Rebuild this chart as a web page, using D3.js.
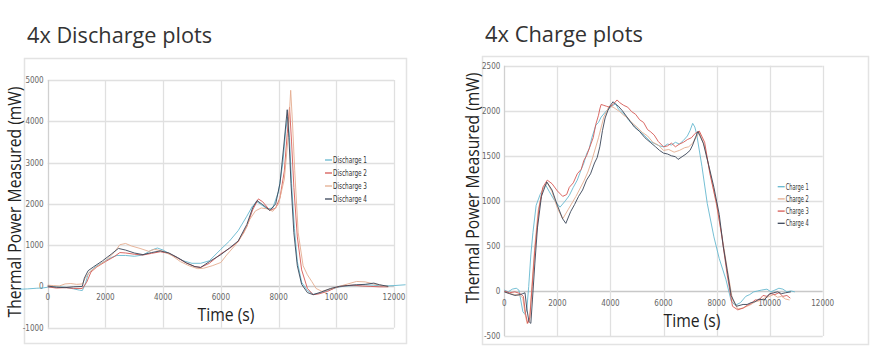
<!DOCTYPE html>
<html>
<head>
<meta charset="utf-8">
<script src="https://cdn.jsdelivr.net/npm/d3@7"></script>
<style>
  body { margin: 0; background: #fff; }
  svg { display: block; }
</style>
</head>
<body>
<div class="vis"></div>
<script>
const W = 881;
const H = 364;

// ---- data (time in s, thermal power in mW) ----
const xTicks = [0, 2000, 4000, 6000, 8000, 10000, 12000];
const dischargeTicksY = [-1000, 0, 1000, 2000, 3000, 4000, 5000];
const chargeTicksY = [-500, 0, 500, 1000, 1500, 2000, 2500];

const dischargeNames = ["Discharge 1", "Discharge 2", "Discharge 3", "Discharge 4"];
const chargeNames = ["Charge 1", "Charge 2", "Charge 3", "Charge 4"];

const discharge1 = [[-1000,-70],[-700,-60],[-400,-45],[-150,-35],[0,-20],[300,-10],[600,-20],[900,-60],[1100,-90],[1200,-100],[1300,50],[1400,300],[1600,450],[1900,580],[2200,700],[2400,750],[2700,750],[3000,730],[3300,760],[3600,880],[3800,930],[4000,880],[4300,760],[4700,620],[5000,560],[5300,560],[5600,620],[6000,900],[6300,1100],[6600,1350],[6900,1700],[7100,1950],[7250,2050],[7400,1980],[7600,1880],[7800,1900],[8000,2300],[8150,3000],[8250,3800],[8320,4100],[8380,3600],[8450,2500],[8550,1400],[8650,600],[8800,100],[9000,-100],[9200,-190],[9400,-170],[9700,-100],[10000,-30],[10300,10],[10700,30],[11000,40],[11300,30],[11600,10],[12000,20],[12400,40]];
const discharge2 = [[0,-10],[300,-40],[600,-30],[900,-50],[1200,-50],[1350,100],[1500,350],[1700,470],[2000,600],[2300,720],[2500,820],[2700,810],[3000,780],[3300,760],[3600,800],[3900,840],[4200,800],[4500,690],[4800,570],[5100,480],[5300,460],[5600,560],[6000,790],[6300,920],[6600,1080],[6900,1450],[7100,1850],[7300,2120],[7450,2050],[7700,1840],[7900,1900],[8050,2150],[8200,2800],[8300,3700],[8380,4340],[8450,3500],[8530,2400],[8650,1200],[8800,400],[9000,-50],[9200,-200],[9400,-180],[9700,-120],[10000,-20],[10300,20],[10600,30],[10900,10],[11200,0],[11500,-10],[11800,-10]];
const discharge3 = [[0,30],[200,20],[400,10],[600,60],[800,70],[1000,50],[1200,60],[1300,200],[1450,350],[1700,480],[2000,620],[2300,820],[2500,1010],[2700,1040],[2900,980],[3200,920],[3500,850],[3700,900],[4000,850],[4300,750],[4600,600],[4900,500],[5200,430],[5400,440],[5700,500],[6000,580],[6200,760],[6500,1000],[6800,1300],[7000,1620],[7200,1830],[7400,1900],[7600,1880],[7800,1820],[8000,2000],[8200,2600],[8330,3600],[8420,4750],[8480,4000],[8560,2800],[8680,1300],[8850,500],[9000,280],[9150,120],[9300,-50],[9500,-120],[9800,-60],[10100,0],[10400,60],[10700,120],[11000,110],[11300,60],[11600,20],[11800,0]];
const discharge4 = [[0,10],[300,-20],[600,-30],[900,-10],[1200,0],[1270,200],[1400,380],[1600,480],[1900,620],[2200,780],[2450,920],[2700,880],[3000,810],[3300,770],[3600,820],[3900,860],[4200,810],[4500,700],[4800,570],[5100,480],[5300,460],[5600,600],[6000,770],[6300,930],[6600,1100],[6900,1500],[7100,1900],[7250,2080],[7450,1980],[7700,1840],[7900,2000],[8050,2500],[8180,3400],[8300,4280],[8360,3600],[8430,2500],[8530,1300],[8650,500],[8800,50],[9000,-150],[9200,-200],[9500,-130],[9800,-50],[10100,0],[10400,20],[10700,40],[11000,50],[11300,80],[11500,40],[11800,0]];

const charge1 = [[0,10],[150,-10],[300,20],[450,30],[550,10],[620,-100],[700,-230],[780,-260],[850,-200],[920,50],[1000,400],[1080,650],[1200,950],[1350,1070],[1550,1180],[1700,1100],[1900,1000],[2100,930],[2300,1000],[2450,1060],[2600,1150],[2750,1230],[2900,1350],[3000,1420],[3100,1520],[3200,1580],[3300,1700],[3450,1840],[3550,1870],[3650,1930],[3850,2000],[4050,2050],[4200,2080],[4300,2020],[4400,1990],[4550,1950],[4700,1890],[4850,1850],[5000,1800],[5150,1760],[5300,1720],[5500,1660],[5700,1630],[5850,1610],[6000,1600],[6150,1630],[6300,1620],[6450,1650],[6600,1630],[6750,1670],[6900,1720],[7000,1780],[7100,1860],[7180,1820],[7250,1740],[7450,1380],[7650,970],[7900,600],[8100,360],[8350,130],[8550,-110],[8700,-160],[8900,-130],[9100,-60],[9250,-40],[9400,-10],[9550,0],[9700,10],[9900,20],[10050,-10],[10200,10],[10350,30],[10500,20],[10650,-10],[10800,0],[10950,-10]];
const charge2 = [[0,-10],[200,-30],[400,-40],[600,-50],[700,-80],[780,-250],[860,-360],[950,-330],[1050,100],[1150,500],[1280,900],[1450,1130],[1620,1200],[1800,1100],[2000,920],[2200,800],[2400,900],[2700,1050],[3000,1220],[3150,1320],[3300,1450],[3550,1700],[3750,1930],[3950,2050],[4100,2040],[4200,2020],[4350,1990],[4500,1950],[4650,1920],[4800,1870],[5000,1820],[5200,1760],[5400,1720],[5600,1650],[5800,1620],[6000,1560],[6200,1570],[6400,1540],[6600,1560],[6800,1590],[6950,1600],[7100,1640],[7350,1760],[7550,1600],[7800,1250],[8000,950],[8200,620],[8400,250],[8600,-100],[8800,-200],[9000,-190],[9150,-170],[9300,-150],[9450,-120],[9600,-110],[9800,-80],[10000,-60],[10150,-40],[10300,-70],[10450,-60],[10600,-90],[10750,-100]];
const charge3 = [[0,0],[200,-20],[400,-10],[600,-30],[720,-60],[800,-250],[880,-360],[960,-300],[1050,50],[1150,450],[1300,900],[1450,1150],[1620,1230],[1800,1190],[2000,1110],[2200,1050],[2350,1070],[2450,1150],[2600,1200],[2750,1300],[2900,1350],[3000,1450],[3100,1500],[3250,1620],[3350,1700],[3450,1850],[3550,1950],[3600,2020],[3650,2070],[3750,2060],[3850,2050],[3950,2040],[4100,2070],[4250,2120],[4350,2090],[4500,2060],[4650,2040],[4800,1990],[4950,1960],[5100,1900],[5250,1870],[5400,1790],[5500,1770],[5650,1730],[5800,1660],[6000,1600],[6150,1610],[6300,1640],[6450,1600],[6600,1630],[6750,1650],[6900,1680],[7050,1700],[7200,1750],[7350,1775],[7550,1650],[7750,1300],[8000,970],[8200,600],[8400,180],[8600,-170],[8800,-210],[9000,-190],[9150,-160],[9300,-140],[9450,-100],[9600,-100],[9750,-50],[9900,-60],[10050,-30],[10200,-40],[10350,-20],[10500,-60],[10650,-50],[10780,-80]];
const charge4 = [[0,-10],[200,-30],[400,-50],[600,-40],[700,-30],[780,-20],[850,-200],[930,-340],[1000,-360],[1060,-100],[1150,300],[1250,700],[1400,1050],[1600,1210],[1800,1120],[2000,950],[2200,800],[2320,750],[2500,880],[2650,960],[2800,1050],[2950,1120],[3100,1230],[3250,1300],[3400,1420],[3500,1480],[3600,1600],[3700,1780],[3800,1920],[3900,2000],[4000,2060],[4100,2100],[4200,2070],[4300,2050],[4450,2000],[4600,1940],[4750,1880],[4900,1820],[5100,1770],[5300,1700],[5500,1650],[5700,1600],[5850,1560],[6000,1530],[6150,1520],[6300,1500],[6450,1490],[6550,1460],[6700,1490],[6850,1520],[7000,1560],[7100,1620],[7200,1700],[7300,1770],[7500,1640],[7700,1400],[7900,1150],[8100,850],[8250,500],[8400,230],[8550,-50],[8750,-170],[9000,-150],[9150,-150],[9300,-130],[9450,-120],[9600,-90],[9800,-100],[10000,-30],[10150,-20],[10300,-10],[10450,-30],[10600,-20],[10800,-10]];

const svg = d3
  .select(".vis")
  .append("svg")
  .attr("width", W)
  .attr("height", H);

const headFont = "'Open Sans', 'DejaVu Sans', sans-serif";
const smallFont = "'Liberation Sans Narrow', 'DejaVu Sans Condensed', sans-serif";

function drawChart(cfg) {
  const g = svg.append("g");

  // outer chart frame
  g.append("rect")
    .attr("x", cfg.frame[0] + 0.5)
    .attr("y", cfg.frame[1] + 0.5)
    .attr("width", cfg.frame[2] - cfg.frame[0])
    .attr("height", cfg.frame[3] - cfg.frame[1])
    .attr("fill", "none")
    .attr("stroke", "#e3e3e3")
    .attr("stroke-width", 1.5);

  // title
  g.append("text")
    .attr("x", cfg.titleX)
    .attr("y", cfg.titleY)
    .attr("font-family", headFont)
    .attr("font-size", 21)
    .attr("fill", "#333")
    .attr("textLength", cfg.titleWidth)
    .attr("lengthAdjust", "spacingAndGlyphs")
    .text(cfg.title);

  //scales
  const x = d3.scaleLinear().domain([0, 12000]).range(cfg.xRange);
  const y = d3.scaleLinear().domain(cfg.yDomain).range(cfg.yRange);

  // grid
  g.append("g")
    .selectAll("line")
    .data(cfg.yTicks)
    .join("line")
    .attr("x1", x(0))
    .attr("x2", x(12000))
    .attr("y1", (d) => Math.round(y(d)) + 0.5)
    .attr("y2", (d) => Math.round(y(d)) + 0.5)
    .attr("stroke", (d) => (d === 0 ? "#c8c8c8" : "#e0e0e0"))
    .attr("stroke-width", 1.3);

  g.append("g")
    .selectAll("line")
    .data(xTicks)
    .join("line")
    .attr("x1", (d) => Math.round(x(d)) + 0.5)
    .attr("x2", (d) => Math.round(x(d)) + 0.5)
    .attr("y1", y(cfg.yDomain[1]))
    .attr("y2", y(cfg.yDomain[0]))
    .attr("stroke", (d) => (d === 0 ? "#d0d0d0" : "#e0e0e0"))
    .attr("stroke-width", 1.3);

  // tick labels
  g.append("g")
    .selectAll("text")
    .data(cfg.yTicks)
    .join("text")
    .attr("x", x(0) - 4)
    .attr("y", (d) => y(d) + 3)
    .attr("text-anchor", "end")
    .attr("font-family", smallFont)
    .attr("font-size", 8)
    .attr("fill", "#666")
    .text((d) => d);

  g.append("g")
    .selectAll("text")
    .data(xTicks)
    .join("text")
    .attr("x", (d) => x(d))
    .attr("y", y(0) + cfg.xLabelOffset)
    .attr("text-anchor", "middle")
    .attr("font-family", smallFont)
    .attr("font-size", 8)
    .attr("fill", "#666")
    .text((d) => d);

  // axis titles
  g.append("text")
    .attr("transform", `translate(${cfg.yTitle[0]},${cfg.yTitle[1]}) rotate(-90)`)
    .attr("text-anchor", "middle")
    .attr("font-family", headFont)
    .attr("font-size", 18)
    .attr("fill", "#222")
    .attr("textLength", 231)
    .attr("lengthAdjust", "spacingAndGlyphs")
    .text("Thermal Power Measured (mW)");

  g.append("text")
    .attr("x", cfg.xTitle[0])
    .attr("y", cfg.xTitle[1])
    .attr("text-anchor", "middle")
    .attr("font-family", headFont)
    .attr("font-size", 18)
    .attr("fill", "#222")
    .attr("textLength", 57)
    .attr("lengthAdjust", "spacingAndGlyphs")
    .text("Time (s)");

  // lines
  const line = d3
    .line()
    .x((d) => x(d[0]))
    .y((d) => y(d[1]));

  cfg.series.forEach((s, i) => {
    g.append("path")
      .datum(s)
      .attr("d", line)
      .attr("fill", "none")
      .attr("stroke", cfg.colors[i])
      .attr("stroke-width", 1)
      .attr("stroke-opacity", 0.9)
      .attr("stroke-linejoin", "round");
  });

  // legend
  const leg = g.append("g");
  cfg.names.forEach((name, i) => {
    const ly = cfg.legend[1] + i * cfg.legendStep;
    leg.append("line")
      .attr("x1", cfg.legend[0])
      .attr("x2", cfg.legend[0] + 7)
      .attr("y1", ly)
      .attr("y2", ly)
      .attr("stroke", cfg.colors[i])
      .attr("stroke-width", 1.3);
    leg.append("text")
      .attr("x", cfg.legend[0] + 8)
      .attr("y", ly + 3)
      .attr("font-family", smallFont)
      .attr("font-size", 8)
      .attr("fill", "#333")
      .attr("textLength", cfg.legendWidth)
      .attr("lengthAdjust", "spacingAndGlyphs")
      .text(name);
  });
}

drawChart({
  title: "4x Discharge plots",
  titleX: 27,
  titleY: 43,
  titleWidth: 185,
  frame: [24, 58, 406, 343],
  xRange: [47.7, 394],
  yDomain: [-1000, 5000],
  yRange: [327.7, 80],
  yTicks: dischargeTicksY,
  xLabelOffset: 14,
  yTitle: [21, 202],
  xTitle: [226, 321],
  series: [discharge1, discharge2, discharge3, discharge4],
  names: dischargeNames,
  colors: ["#66b8cf", "#d65a55", "#e4ad90", "#3a4558"],
  legend: [325, 160],
  legendStep: 13,
  legendWidth: 34
});

drawChart({
  title: "4x Charge plots",
  titleX: 485,
  titleY: 42,
  titleWidth: 158,
  frame: [482, 56, 868, 344],
  xRange: [504.3, 822.7],
  yDomain: [-500, 2500],
  yRange: [336, 65.7],
  yTicks: chargeTicksY,
  xLabelOffset: 15,
  yTitle: [479, 188],
  xTitle: [692, 327],
  series: [charge1, charge2, charge3, charge4],
  names: chargeNames,
  colors: ["#66b8cf", "#e4ad90", "#d65a55", "#3a4558"],
  legend: [777.7, 186.7],
  legendStep: 12.2,
  legendWidth: 23
});
</script>
</body>
</html>
